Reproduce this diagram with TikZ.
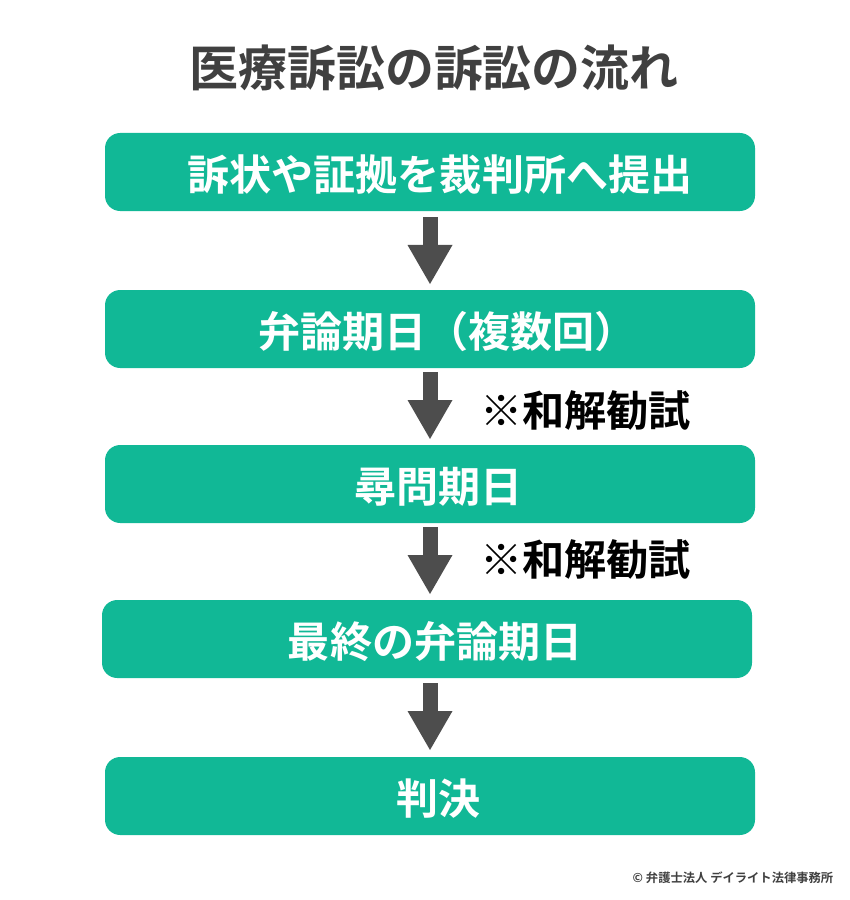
\documentclass[tikz,border=0pt]{standalone}
\usepackage{fontspec}
\setmainfont{Noto Sans CJK JP}[BoldFont={Noto Sans CJK JP Bold}]
\usetikzlibrary{arrows.meta}
\definecolor{stepgreen}{RGB}{17,184,150}
\definecolor{arrowgray}{RGB}{77,77,77}
\definecolor{titlegray}{RGB}{64,64,64}
\newcommand{\boxlabel}[2]{\hspace*{#1}\raisebox{0pt}[36pt][3.6pt]{#2}}
\tikzset{
    stepbox/.style={fill=stepgreen, rounded corners=13pt, minimum width=650*0.03cm, minimum height=78*0.03cm, inner sep=0pt, text=white, font=\fontsize{35.9pt}{36pt}\selectfont\bfseries},
    flow/.style={draw=arrowgray, line width=0.45cm, -{Triangle[length=1.17cm,width=1.35cm,line width=0pt]}},
    note/.style={anchor=west, inner sep=0pt, font=\fontsize{36pt}{36pt}\selectfont\bfseries}
}
\begin{document}
\begin{tikzpicture}[x=0.03cm,y=-0.03cm]
    \useasboundingbox (0,0) rectangle (850,900);
    \node (title) at (434,68) [text=titlegray, inner sep=0pt, font=\fontsize{41.8pt}{42pt}\selectfont\bfseries] {医療訴訟の訴訟の流れ};
    \node [stepbox] (filing) at (430,172) {\boxlabel{17pt}{訴状や証拠を裁判所へ提出}};
    \node [stepbox] (hearing) at (430,329) {\boxlabel{30pt}{弁論期日（複数回）}};
    \node [stepbox] (witness) at (430,484) {\boxlabel{14pt}{尋問期日}};
    \node [stepbox] (final) at (427,639) {\boxlabel{14pt}{最終の弁論期日}};
    \node [stepbox] (ruling) at (430,796) {\boxlabel{15pt}{判決}};
    \coordinate (a1s) at (430,217); \coordinate (a1e) at (430,284);
    \coordinate (a2s) at (430,372); \coordinate (a2e) at (430,439);
    \coordinate (a3s) at (430,527); \coordinate (a3e) at (430,594);
    \coordinate (a4s) at (430,683); \coordinate (a4e) at (430,750);
    \draw [flow] (a1s) -- (a1e);
    \draw [flow] (a2s) -- (a2e);
    \draw [flow] (a3s) -- (a3e);
    \draw [flow] (a4s) -- (a4e);
    \node [note] (settle1) at (480,410) {※和解勧試};
    \node [note] (settle2) at (480,559) {※和解勧試};
    \node (credit) at (733,878) [text=titlegray, inner sep=0pt, font=\fontsize{10.5pt}{10.5pt}\selectfont\bfseries] {© 弁護士法人 デイライト法律事務所};
\end{tikzpicture}
\end{document}
